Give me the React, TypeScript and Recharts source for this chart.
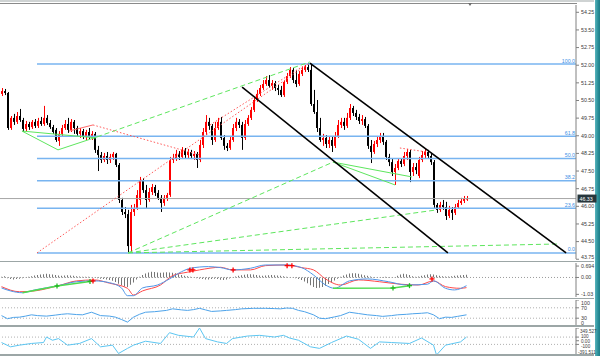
import React from 'react';
import { ComposedChart, Bar, Line, XAxis, YAxis, ReferenceLine } from 'recharts';

// ---------------- price data (one candle per bar) ----------------
const openP = [50.78,50.90,50.82,49.33,49.76,49.59,49.84,49.67,49.29,49.50,
49.37,49.59,49.42,49.63,49.50,49.76,49.54,49.37,49.25,48.78,
49.08,49.33,49.50,49.25,49.59,49.33,49.08,49.20,48.99,49.16,
48.95,49.08,48.40,48.18,47.97,48.14,47.97,48.10,48.23,47.76,
46.27,45.76,45.67,44.31,45.76,45.93,46.27,47.08,46.69,46.27,
46.61,46.82,46.57,46.36,46.14,46.36,46.48,47.97,48.05,48.23,
48.10,48.40,48.18,48.31,48.14,48.23,47.97,48.61,49.16,49.59,
49.42,48.82,49.33,49.59,48.91,48.57,48.48,48.82,49.33,49.59,
49.46,48.91,49.50,49.76,50.10,50.52,50.78,51.03,51.20,51.37,
51.12,51.24,51.03,50.95,50.73,51.29,51.54,51.80,51.37,51.20,
51.63,51.80,51.92,51.80,50.35,50.01,49.33,48.82,48.91,48.65,
48.82,48.57,48.99,49.46,49.59,49.42,49.76,50.18,49.97,49.80,
49.63,49.71,49.42,48.57,48.31,48.65,48.82,48.99,48.74,48.10,
47.88,47.46,47.63,47.93,47.80,48.14,48.31,47.46,47.67,47.29,
47.97,48.18,48.31,48.14,47.88,46.06,45.85,46.06,45.97,45.59,
45.85,45.72,45.97,46.14,46.23,46.31];
const highP = [51.03,50.99,50.86,49.84,49.93,50.01,50.14,49.76,49.63,49.59,
49.67,49.71,49.76,49.80,50.27,49.88,49.67,49.46,49.33,49.20,
49.46,49.67,49.76,49.71,49.67,49.42,49.33,49.29,49.25,49.33,
49.20,49.16,48.57,48.31,48.27,48.31,48.23,48.31,48.27,47.84,
46.36,45.97,45.85,46.06,46.10,46.69,47.25,47.20,46.91,46.78,
46.95,46.91,46.69,46.48,46.48,46.57,48.10,48.23,48.40,48.35,
48.52,48.48,48.44,48.40,48.35,48.31,48.82,49.33,49.88,49.76,
49.50,49.59,49.76,49.80,49.03,48.69,48.99,49.50,49.76,49.71,
49.59,49.67,49.88,50.22,50.65,50.95,51.16,51.37,51.54,51.58,
51.37,51.33,51.16,51.12,51.37,51.67,51.92,51.88,51.80,51.75,
51.92,52.01,52.09,52.01,50.95,50.52,49.76,49.08,49.03,48.99,
48.95,49.16,49.67,49.76,49.76,49.97,50.35,50.27,50.10,49.93,
49.88,49.80,49.50,48.82,48.78,48.95,49.12,49.12,48.82,48.23,
48.05,47.80,48.05,48.05,48.31,48.44,48.40,47.84,47.84,48.10,
48.35,48.44,48.40,48.27,47.97,46.14,46.19,46.27,46.19,46.02,
45.97,46.10,46.27,46.36,46.44,46.44];
const lowP = [50.69,50.73,49.25,49.25,49.46,49.50,49.59,49.16,49.20,49.25,
49.29,49.33,49.33,49.42,49.42,49.46,49.29,49.08,48.74,48.57,
48.99,49.25,49.12,49.16,49.08,48.95,48.91,48.86,48.82,48.86,
48.82,48.27,47.50,47.84,47.88,47.80,47.84,47.97,47.67,46.14,
45.63,45.50,44.02,44.06,45.59,45.85,46.06,46.57,45.93,46.19,
46.48,46.44,46.27,45.76,46.02,46.23,46.40,47.84,47.93,47.97,
48.01,48.05,48.05,48.01,47.97,47.63,47.88,48.48,49.03,49.25,
48.61,48.74,49.25,48.82,48.40,48.35,48.40,48.74,49.20,49.33,
48.40,48.82,49.42,49.67,50.01,50.44,50.69,50.95,51.12,51.03,
50.95,50.90,50.73,50.65,50.65,51.20,51.46,51.24,51.07,51.12,
51.54,51.71,51.71,50.27,49.93,49.16,48.74,48.57,48.48,48.48,
48.31,48.48,48.91,49.33,49.25,49.33,49.67,49.84,49.67,49.50,
49.46,49.33,48.44,47.84,48.23,48.52,48.69,48.61,47.97,47.71,
47.29,46.91,47.54,47.67,47.71,47.97,47.03,47.29,47.37,47.20,
47.88,48.05,48.01,47.76,45.93,45.72,45.76,45.85,45.42,45.50,
45.42,45.63,45.89,46.06,46.14,46.23];
const closeP = [50.90,50.82,49.33,49.76,49.59,49.84,49.67,49.29,49.50,49.37,
49.59,49.42,49.63,49.50,49.76,49.54,49.37,49.16,48.82,49.08,
49.33,49.50,49.25,49.59,49.33,49.08,49.20,48.99,49.16,48.95,
49.08,48.40,48.18,47.97,48.14,47.97,48.10,48.23,47.76,46.27,
45.76,45.67,44.31,45.76,45.93,46.48,47.12,46.69,46.27,46.61,
46.82,46.57,46.36,46.14,46.36,46.48,47.97,48.05,48.23,48.10,
48.40,48.18,48.31,48.14,48.23,47.97,48.61,49.16,49.59,49.42,
48.82,49.33,49.59,48.91,48.57,48.48,48.82,49.33,49.59,49.46,
48.91,49.50,49.76,50.10,50.52,50.78,51.03,51.20,51.37,51.12,
51.24,51.03,50.95,50.73,51.29,51.54,51.80,51.37,51.20,51.63,
51.80,51.92,51.80,50.35,50.01,49.33,48.82,48.91,48.65,48.82,
48.57,48.99,49.46,49.59,49.42,49.76,50.18,49.97,49.80,49.63,
49.71,49.42,48.57,48.31,48.65,48.82,48.99,48.74,48.10,47.88,
47.46,47.63,47.93,47.80,48.14,48.31,47.46,47.67,47.54,47.97,
48.18,48.31,48.14,47.88,46.06,45.85,46.06,45.97,45.59,45.85,
45.72,45.97,46.14,46.23,46.31,46.33];

const priceTicks = [43.75,44.5,45.25,46,46.75,47.5,48.25,49,49.75,50.5,51.25,52,52.75,53.5,54.25];
const lastPrice = 46.33;

// Fibonacci retracement object
const FIB_LOW = 44.02;
const FIB_HIGH = 52.05;
const FIB_START = 12.33;
const fibLevels = [0, 23.6, 38.2, 50, 61.8, 100];
const fibLabels = ['0.0', '23.6', '38.2', '50.0', '61.8', '100.0'];

// drawn objects: anchors in [bar position, price]
const channelLines = [
  [[103.3, 52.09], [188.7, 44.02]],
  [[80.7, 51.07], [149.3, 44.02]],
];
const greenSolid = [
  [[7.33, 49.2], [19.33, 48.4]],
  [[19.33, 48.4], [32.33, 48.95]],
  [[7.33, 49.2], [32.0, 48.91]],
  [[111, 47.88], [131.67, 46.91]],
  [[111, 47.88], [137.3, 47.25]],
];
const greenDashed = [
  [[32.33, 48.95], [103.3, 52.14]],
  [[42.67, 44.02], [111, 47.88]],
  [[42.67, 44.02], [145.67, 45.85]],
  [[42.67, 44.02], [186.67, 44.4]],
];
const redDotted = [
  [[12.33, 44.02], [102.67, 52.05]],
  [[31, 49.46], [66.67, 48.18]],
  [[70, 49.46], [101.67, 52.01]],
  [[133.3, 48.48], [142.3, 48.31]],
];
const redSolid = [[[23, 49.2], [31, 49.46]]];

// ---------------- MACD ----------------
const macdHist = [0.05,0.08,-0.05,-0.10,-0.12,-0.10,-0.08,-0.05,0.02,0.05,
0.08,0.12,0.15,0.18,0.20,0.22,0.20,0.18,0.15,0.12,
0.10,0.12,0.14,0.12,0.10,0.08,0.06,0.05,0.05,0.04,
0.02,-0.02,-0.05,-0.08,-0.10,-0.12,-0.15,-0.20,-0.28,-0.38,
-0.48,-0.55,-0.58,-0.45,-0.30,-0.12,0.04,0.15,0.24,0.30,
0.34,0.33,0.30,0.28,0.30,0.32,0.30,0.28,0.25,0.20,
0.15,0.10,0.08,0.05,-0.02,-0.05,-0.08,-0.10,-0.12,-0.12,
-0.10,-0.08,-0.10,-0.14,-0.15,-0.12,-0.06,0.02,0.06,0.10,
0.14,0.17,0.20,0.20,0.18,0.15,0.12,0.10,0.12,0.14,
0.15,0.14,0.12,0.10,0.08,0.05,0.02,-0.02,-0.05,-0.10,
-0.15,-0.25,-0.35,-0.48,-0.58,-0.64,-0.62,-0.58,-0.50,-0.40,
-0.30,-0.18,-0.08,0.05,0.12,0.18,0.24,0.26,0.25,0.22,
0.18,0.14,0.10,0.06,0.03,0.02,0.02,0.03,0.04,0.03,
0.02,0.02,0.10,0.18,0.22,0.20,0.15,0.08,0.05,0.06,
0.10,0.14,0.18,0.20,0.18,0.14,0.10,0.08,0.06,0.06,
0.08,0.10,0.12,0.14,0.15,0.16];
const macdMainIdx = [0,3,7,11,19,25,31,36,40,42,44,47,52,56,60,63,69,73,77,83,88,95,100,104,108,111,116,122,129,135,142,144,148,151,155];
const macdMainVal = [-0.64,-0.82,-0.93,-0.76,-0.50,-0.26,-0.21,-0.32,-0.64,-1.11,-1.11,-0.64,-0.46,-0.09,0.35,0.56,0.66,0.60,0.46,0.56,0.76,0.76,0.60,0.15,-0.46,-0.66,-0.21,-0.09,-0.26,-0.46,-0.41,-0.21,-0.66,-0.76,-0.50];
const macdSigIdx = [0,6,11,19,25,31,36,42,44,47,53,57,62,66,73,77,83,88,95,100,104,108,113,119,126,133,139,144,148,153,155];
const macdSigVal = [-0.56,-0.87,-0.82,-0.50,-0.21,-0.15,-0.35,-0.66,-1.07,-0.82,-0.46,0.11,0.32,0.46,0.62,0.46,0.46,0.72,0.76,0.60,0.46,-0.09,-0.46,-0.15,-0.26,-0.41,-0.46,-0.21,-0.56,-0.66,-0.62];
const divA_Idx = [7, 18.5, 29.5];
const divA_Val = [-0.93, -0.52, -0.24];
const divB_Idx = [110.5, 130.5, 136];
const divB_Val = [-0.66, -0.64, -0.50];
const greenMarkIdx = [18.5, 29.5, 130.5, 136];
const greenMarkVal = [-0.52, -0.24, -0.64, -0.50];
const redMarkIdx = [30.5, 62.8, 63.8, 77.2, 95.2, 96.8, 143.5];
const redMarkVal = [-0.21, 0.46, 0.46, 0.46, 0.72, 0.72, -0.09];
const macdTicks = [0.694, 0, -1.03];

// ---------------- RSI ----------------
const rsiIdx = [0,2,4,6,8,10,12,15,18,20,22,25,27,30,33,36,38,40,42,44,46,48,51,55,57,60,62,64,66,68,70,73,75,78,80,84,88,91,93,95,97,99,101,104,106,108,111,113,116,119,122,125,127,130,132,135,137,140,142,144,146,148,150,152,155];
const rsiVal = [40,28,33,34,38,43,40,38,42,45,47,44,43,53,40,38,34,25,15,34,45,53,55,60,66,62,60,63,68,62,56,58,60,63,66,68,68,67,66,69,68,60,55,43,30,28,35,40,53,48,43,40,37,40,43,45,47,49,51,43,28,34,33,37,43];
const rsiTicks = [100, 70, 30, 0];

// ---------------- CCI ----------------
const cciIdx = [0,3,6,10,14,15,17,19,22,26,30,33,37,39,42,44,48,53,56,59,64,66,68,72,75,77,82,86,91,94,96,99,103,106,110,115,119,123,126,130,136,140,144,145,148,153,155];
const cciVal = [-49,-167,-121,-75,-49,102,13,59,-121,-75,59,-167,-121,-350,-210,-121,-13,-75,221,148,102,349.527,59,-32,-75,59,129,148,102,148,75,13,-167,-210,-49,129,40,-210,-32,-49,-75,75,-121,-391.511,-121,-32,102];
const cciTicks = [349.527, 100, 0, -100, -391.511];

// ---------------- derived tables ----------------
const candles = openP.map((o, k) => ({ i: k + 0.5, open: o, high: highP[k], low: lowP[k], close: closeP[k] }));
const histData = macdHist.map((h, k) => ({ i: k + 0.5, h }));
const pts = (idx: number[], val: number[]) => idx.map((x, k) => ({ i: x + 0.5, v: val[k] }));
const macdMain = pts(macdMainIdx, macdMainVal);
const macdSig = pts(macdSigIdx, macdSigVal);
const divA = pts(divA_Idx, divA_Val);
const divB = pts(divB_Idx, divB_Val);
const greenMarks = pts(greenMarkIdx, greenMarkVal);
const redMarks = pts(redMarkIdx, redMarkVal);
const rsiData = pts(rsiIdx, rsiVal);
const cciData = pts(cciIdx, cciVal);

const FONT = '"Liberation Sans", Arial, sans-serif';
const W = 600;
const X_DOMAIN: [number, number] = [0, 192];

function Candle(props: any) {
  const { x, y, width, height, payload } = props;
  if (!payload || x == null || y == null) return null;
  const top = Math.min(y, y + height);
  const h = Math.abs(height);
  const { open, close, high, low } = payload;
  const span = high - low || 1;
  const yO = top + ((high - open) / span) * h;
  const yC = top + ((high - close) / span) * h;
  const c = Math.floor(x + width / 2);
  const bull = close >= open;
  const color = bull ? '#ff0000' : '#000000';
  const bTop = Math.min(yO, yC);
  const bH = Math.max(1, Math.abs(yC - yO));
  return (
    <g>
      <line x1={c + 0.5} x2={c + 0.5} y1={top} y2={top + h} stroke={color} strokeWidth={1} />
      <rect x={c - 1} y={bTop} width={2} height={bH} fill={color} />
    </g>
  );
}

function AxisTick(props: any) {
  const { x, y, payload, fmt, clampTop, clampBottom, shifts, size } = props;
  let yy = y;
  if (clampTop != null && yy < clampTop) yy = clampTop;
  if (clampBottom != null && yy > clampBottom) yy = clampBottom;
  const s = shifts && shifts[String(payload.value)] ? shifts[String(payload.value)] : [0, 0];
  return (
    <text x={x + s[0]} y={yy + 1.9 + s[1]} fontSize={size || 5.3} fill="#3a3a3a" fontFamily={FONT} textAnchor="start">
      {fmt(payload.value)}
    </text>
  );
}

function FibLabel(props: any) {
  const vb = props.viewBox || {};
  return (
    <text x={(vb.x || 0) + (vb.width || 0) - 1} y={(vb.y || 0) - 1.5} fontSize={5.3} fill="#3d8fe6" fontFamily={FONT} textAnchor="end">
      {props.text}
    </text>
  );
}

function PriceLabel(props: any) {
  const vb = props.viewBox || {};
  const x = (vb.x || 0) + (vb.width || 0) + 1.5;
  const y = vb.y || 0;
  return (
    <g>
      <rect x={x} y={y - 4} width={19} height={8} fill="#27363b" />
      <text x={x + 2} y={y + 2} fontSize={5.3} fill="#ffffff" fontFamily={FONT}>{props.text}</text>
    </g>
  );
}

function Cross(props: any) {
  const { cx, cy, color } = props;
  if (cx == null || cy == null) return null;
  return (
    <g>
      <line x1={cx - 2.5} x2={cx + 2.5} y1={cy} y2={cy} stroke={color} strokeWidth={1.3} />
      <line x1={cx} x2={cx} y1={cy - 2.5} y2={cy + 2.5} stroke={color} strokeWidth={1.3} />
    </g>
  );
}

const seg = (s: number[][]) => [{ x: s[0][0], y: s[0][1] }, { x: s[1][0], y: s[1][1] }];

const axisProps = {
  orientation: 'right' as const,
  width: 24,
  tickSize: 3,
  tickMargin: 2,
  interval: 0 as const,
  axisLine: { stroke: '#808080' },
  tickLine: { stroke: '#808080' },
  allowDataOverflow: true,
};

const Sep = ({ top, h = 2 }: { top: number; h?: number }) => (
  <div style={{ position: 'absolute', left: 0, top, width: 594, height: h, background: '#9ca6a6' }} />
);

export default function App() {
  return (
    <div style={{ position: 'fixed', left: 0, top: 0, width: W, height: 356, background: '#ffffff', overflow: 'hidden' }}>
      {/* top frame */}
      <div style={{ position: 'absolute', left: 0, top: 0, width: 594, height: 2, background: '#cfd3d3' }} />
      <div style={{ position: 'absolute', left: 0, top: 3, width: 577, height: 1, background: '#8a8a8a' }} />
      <div style={{ position: 'absolute', left: 468, top: 3, width: 0, height: 0, borderLeft: '2.5px solid transparent', borderRight: '2.5px solid transparent', borderTop: '3px solid #6c6c6c' }} />

      {/* desktop strip at the right edge */}
      <div style={{ position: 'absolute', left: 595, top: 0, width: 5, height: 356, background: 'linear-gradient(to right, #58b4bc, #2a8f99 60%, #1f7c86)' }} />

      {/* main price panel */}
      <div style={{ position: 'absolute', left: 0, top: 0 }}>
        <ComposedChart width={W} height={262} data={candles} margin={{ top: 5, right: 0, bottom: 3, left: 0 }}>
          <XAxis type="number" dataKey="i" domain={X_DOMAIN} hide allowDataOverflow />
          <YAxis {...axisProps} domain={[43.76, 54.56]} ticks={priceTicks}
            tick={<AxisTick fmt={(v: number) => v.toFixed(2)} clampBottom={257} />} />
          {fibLevels.map((lv, k) => {
            const price = FIB_LOW + ((FIB_HIGH - FIB_LOW) * lv) / 100;
            return (
              <ReferenceLine key={'f' + k} segment={[{ x: FIB_START, y: price }, { x: 192, y: price }]}
                stroke="#78b4f0" strokeWidth={1.5} label={<FibLabel text={fibLabels[k]} />} />
            );
          })}
          <ReferenceLine y={lastPrice} stroke="#a6a6a6" strokeWidth={1} label={<PriceLabel text={lastPrice.toFixed(2)} />} />
          {greenDashed.map((s, k) => (
            <ReferenceLine key={'gd' + k} segment={seg(s)} stroke="#5ee65e" strokeWidth={1} strokeDasharray="5 3" />
          ))}
          {greenSolid.map((s, k) => (
            <ReferenceLine key={'gs' + k} segment={seg(s)} stroke="#5ee65e" strokeWidth={1} />
          ))}
          {redDotted.map((s, k) => (
            <ReferenceLine key={'rd' + k} segment={seg(s)} stroke="#ff5a5a" strokeWidth={1} strokeDasharray="1.5 2" />
          ))}
          {redSolid.map((s, k) => (
            <ReferenceLine key={'rs' + k} segment={seg(s)} stroke="#ff6a6a" strokeWidth={1} />
          ))}
          {channelLines.map((s, k) => (
            <ReferenceLine key={'ch' + k} segment={seg(s)} stroke="#000000" strokeWidth={1.6} />
          ))}
          <Bar dataKey={(d: any) => [d.low, d.high]} barSize={2} shape={(p: any) => <Candle {...p} />} isAnimationActive={false} />
        </ComposedChart>
      </div>
      <Sep top={260.5} h={1.8} />

      {/* MACD panel */}
      <div style={{ position: 'absolute', left: 0, top: 263 }}>
        <ComposedChart width={W} height={34} data={histData} margin={{ top: 0, right: 0, bottom: 0, left: 0 }}>
          <XAxis type="number" dataKey="i" domain={X_DOMAIN} hide allowDataOverflow />
          <YAxis {...axisProps} domain={[-1.19, 0.88]} ticks={macdTicks}
            tick={<AxisTick fmt={(v: number) => (v === 0 ? '0.00' : String(v))} />} />
          <ReferenceLine y={0} stroke="#9a9a9a" strokeDasharray="1 2" />
          <Bar dataKey="h" barSize={1} fill="#000000" isAnimationActive={false} />
          <Line data={macdSig} dataKey="v" type="monotone" stroke="#ff4a4a" strokeWidth={1} dot={false} isAnimationActive={false} />
          <Line data={macdMain} dataKey="v" type="monotone" stroke="#4f95e8" strokeWidth={1} dot={false} isAnimationActive={false} />
          <Line data={divA} dataKey="v" type="linear" stroke="#4fdc4f" strokeWidth={1.5} dot={false} isAnimationActive={false} />
          <Line data={divB} dataKey="v" type="linear" stroke="#4fdc4f" strokeWidth={1.5} dot={false} isAnimationActive={false} />
          <Line data={greenMarks} dataKey="v" stroke="none" dot={<Cross color="#22bb22" />} isAnimationActive={false} />
          <Line data={redMarks} dataKey="v" stroke="none" dot={<Cross color="#ff0000" />} isAnimationActive={false} />
        </ComposedChart>
      </div>
      <Sep top={297.5} h={1.8} />

      {/* RSI panel */}
      <div style={{ position: 'absolute', left: 0, top: 299.5 }}>
        <ComposedChart width={W} height={26} data={rsiData} margin={{ top: 0, right: 0, bottom: 0, left: 0 }}>
          <XAxis type="number" dataKey="i" domain={X_DOMAIN} hide allowDataOverflow />
          <YAxis {...axisProps} domain={[0, 100]} ticks={rsiTicks}
            tick={<AxisTick fmt={(v: number) => String(v)} clampTop={3.2} clampBottom={23.2} />} />
          <ReferenceLine y={70} stroke="#b0b0b0" strokeDasharray="1 2" />
          <ReferenceLine y={30} stroke="#b0b0b0" strokeDasharray="1 2" />
          <Line dataKey="v" type="linear" stroke="#4da3ea" strokeWidth={1} dot={false} isAnimationActive={false} />
        </ComposedChart>
      </div>
      <Sep top={325.3} />

      {/* CCI panel */}
      <div style={{ position: 'absolute', left: 0, top: 327.5 }}>
        <ComposedChart width={W} height={27} data={cciData} margin={{ top: 0, right: 0, bottom: 0, left: 0 }}>
          <XAxis type="number" dataKey="i" domain={X_DOMAIN} hide allowDataOverflow />
          <YAxis {...axisProps} domain={[-391.511, 349.527]} ticks={cciTicks}
            tick={<AxisTick size={4.6} fmt={(v: number) => (v === 0 ? '0.00' : String(v))} clampTop={3.2} clampBottom={24.2}
              shifts={{ '100': [0, -1.3], '-100': [0, 1.3], '-391.511': [-3, 0], '349.527': [-1, 0] }} />} />
          <ReferenceLine y={100} stroke="#b0b0b0" strokeDasharray="1 2" />
          <ReferenceLine y={-100} stroke="#b0b0b0" strokeDasharray="1 2" />
          <Line dataKey="v" type="linear" stroke="#5cc6f2" strokeWidth={1} dot={false} isAnimationActive={false} />
        </ComposedChart>
      </div>
      <Sep top={354.3} />
    </div>
  );
}
